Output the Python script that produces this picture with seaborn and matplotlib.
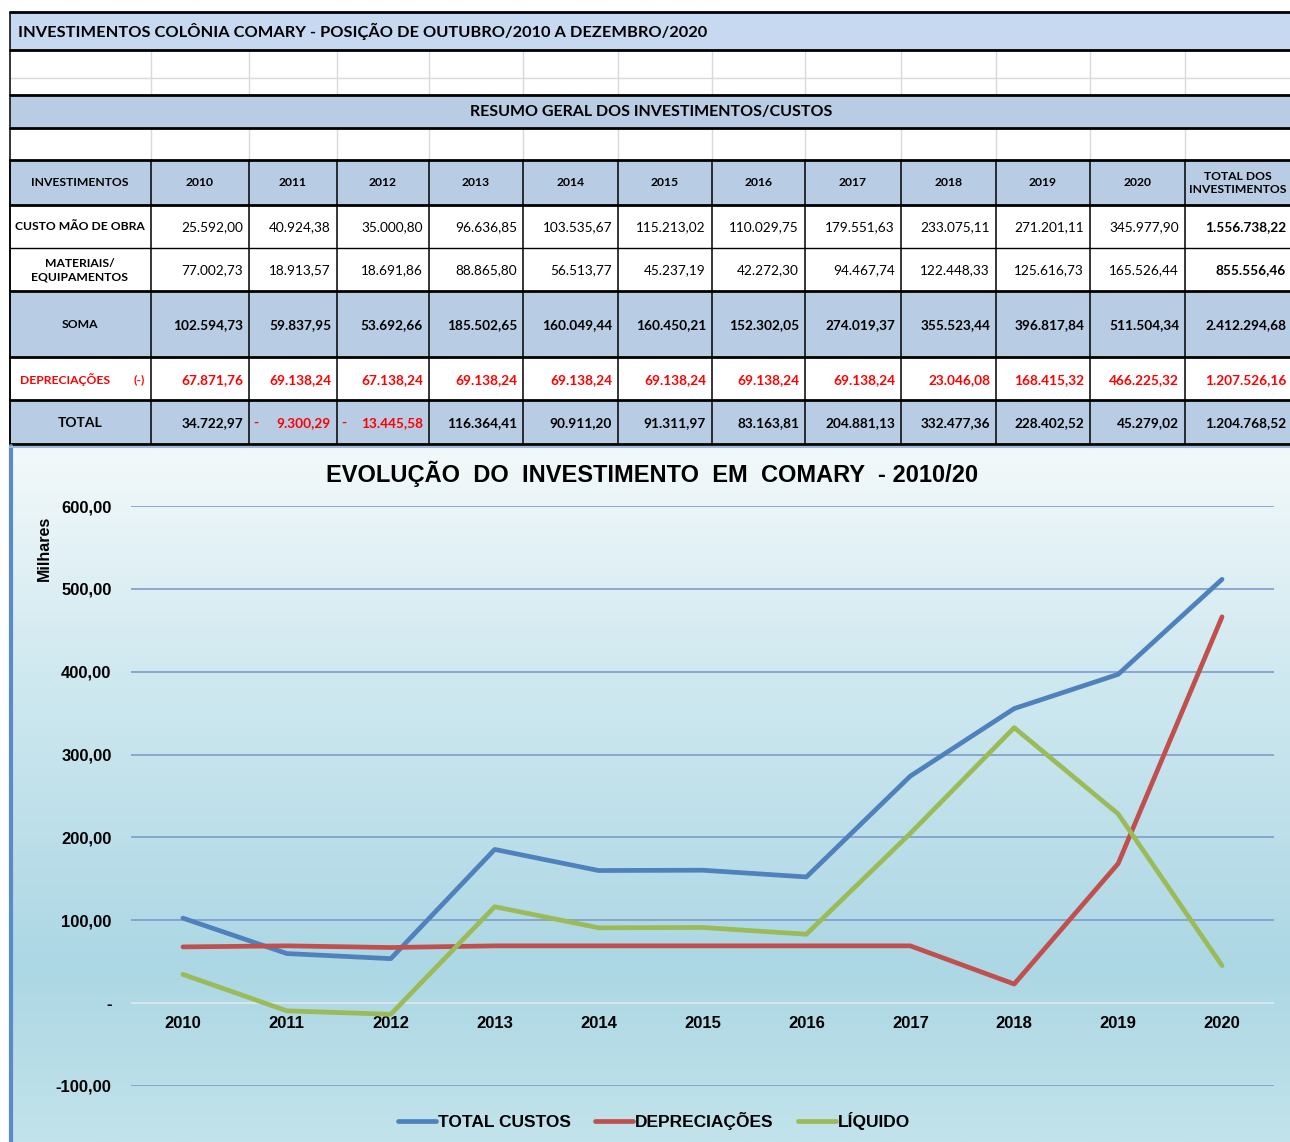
import numpy as np
import pandas as pd
import seaborn as sns
import matplotlib.pyplot as plt
from matplotlib.patches import Rectangle

years = [2010, 2011, 2012, 2013, 2014, 2015, 2016, 2017, 2018, 2019, 2020]
custo_mao_obra = [25592.00, 40924.38, 35000.80, 96636.85, 103535.67, 115213.02,
                  110029.75, 179551.63, 233075.11, 271201.11, 345977.90]
materiais = [77002.73, 18913.57, 18691.86, 88865.80, 56513.77, 45237.19,
             42272.30, 94467.74, 122448.33, 125616.73, 165526.44]
soma = [102594.73, 59837.95, 53692.66, 185502.65, 160049.44, 160450.21,
        152302.05, 274019.37, 355523.44, 396817.84, 511504.34]
depreciacoes = [67871.76, 69138.24, 67138.24, 69138.24, 69138.24, 69138.24,
                69138.24, 69138.24, 23046.08, 168415.32, 466225.32]
liquido = [34722.97, -9300.29, -13445.58, 116364.41, 90911.20, 91311.97,
           83163.81, 204881.13, 332477.36, 228402.52, 45279.02]
totais = [1556738.22, 855556.46, 2412294.68, 1207526.16, 1204768.52]

series_names = ["TOTAL CUSTOS", "DEPRECIAÇÕES", "LÍQUIDO"]
series_colors = ["#4F81BD", "#C0504D", "#9BBB59"]


def br(v):
    s = f"{abs(v):,.2f}"
    return s.replace(",", "X").replace(".", ",").replace("X", ".")


sns.set_theme(style="white")
plt.rcParams['font.family'] = ['Lato', 'DejaVu Sans']
plt.rcParams['text.color'] = 'black'

W, H = 1290, 1142
fig = plt.figure(figsize=(W / 100, H / 100), dpi=100)

# ---- base axes in pixel coords (table + chart background)
base = fig.add_axes([0, 0, 1, 1])
base.set_xlim(0, W)
base.set_ylim(H, 0)
base.axis("off")

BLUE_HDR = "#B8CCE4"
BLUE_TTL = "#C6D9F1"
cols = [10, 151, 249, 337, 429, 523, 618, 712, 805, 901, 996, 1090, 1185, 1290]


def fill(y0, y1, color):
    base.add_patch(Rectangle((10, y0), W - 10, y1 - y0, facecolor=color, edgecolor="none", zorder=1))


fill(12, 50, BLUE_TTL)
fill(95, 128, BLUE_HDR)
fill(160, 205, BLUE_HDR)
fill(291, 357, BLUE_HDR)
fill(400, 444, BLUE_HDR)

# light grid in empty rows
for y0, y1 in [(50, 94), (128, 160)]:
    for x in cols[1:-1]:
        base.plot([x, x], [y0, y1], color="#D9D9D9", lw=1, zorder=2)
base.plot([10, W], [78, 78], color="#D9D9D9", lw=1, zorder=2)

# vertical black lines in data rows
for x in cols[:-1]:
    base.plot([x, x], [160, 444], color="black", lw=1.1, zorder=3)
base.plot([10, 10], [12, 444], color="black", lw=1.1, zorder=3)
for y in [12, 50, 95, 128, 160, 205, 291, 357, 400, 444]:
    base.plot([10, W], [y, y], color="black", lw=2, zorder=3)
base.plot([10, W], [248, 248], color="black", lw=1, zorder=3)

base.text(18, 31, "INVESTIMENTOS COLÔNIA COMARY - POSIÇÃO DE OUTUBRO/2010 A DEZEMBRO/2020",
          fontsize=11.8, fontweight="bold", ha="left", va="center", zorder=4)
base.text(651, 112, "RESUMO GERAL DOS INVESTIMENTOS/CUSTOS",
          fontsize=11.5, fontweight="bold", ha="center", va="center", zorder=4)

hdr = dict(fontsize=8.7, fontweight="bold", ha="center", va="center", zorder=4)
base.text(80, 183, "INVESTIMENTOS", **hdr)
for i, yr in enumerate(years):
    base.text((cols[i + 1] + cols[i + 2]) / 2, 183, str(yr), **hdr)
base.text(1238, 183, "TOTAL DOS\nINVESTIMENTOS", linespacing=1.3, **hdr)

base.text(80, 227, "CUSTO MÃO DE OBRA", **hdr)
base.text(80, 270, "MATERIAIS/\nEQUIPAMENTOS", linespacing=1.3, **hdr)
base.text(80, 325, "SOMA", **hdr)
base.text(20, 380, "DEPRECIAÇÕES", color="red", fontsize=8.7, fontweight="bold", ha="left", va="center", zorder=4)
base.text(139, 380, "(-)", color="red", fontsize=8.7, fontweight="bold", ha="center", va="center", zorder=4)
base.text(80, 423, "TOTAL", fontsize=10, fontweight="bold", ha="center", va="center", zorder=4)

rows = [(custo_mao_obra, 227, "normal", "black"),
        (materiais, 270, "normal", "black"),
        (soma, 325, "bold", "black"),
        (depreciacoes, 380, "bold", "red"),
        (liquido, 423, "bold", "black")]
for r, (vals, y, wt, col) in enumerate(rows):
    for i, v in enumerate(vals):
        xr = cols[i + 2] - 6
        c = col
        if v < 0:
            c = "red"
            base.text(cols[i + 1] + 4, y, "-", color="red", fontsize=10, fontweight="bold",
                      ha="left", va="center", zorder=4)
        base.text(xr, y, br(v), color=c, fontsize=9.8, fontweight=wt, ha="right", va="center", zorder=4)
    tcol = "red" if col == "red" else "black"
    base.text(W - 4, y, br(totais[r]), color=tcol, fontsize=9.8, fontweight="bold",
              ha="right", va="center", zorder=4)

# chart background gradient
stops = [(0.0, (243, 249, 250)), (0.32, (208, 233, 240)), (0.75, (172, 215, 228)), (1.0, (194, 227, 235))]
t = np.linspace(0, 1, 300)
grad = np.zeros((300, 1, 3))
for k in range(3):
    grad[:, 0, k] = np.interp(t, [s[0] for s in stops], [s[1][k] / 255 for s in stops])
base.imshow(grad, extent=[10, W, H, 447], aspect="auto", zorder=0.5)
base.plot([11, 11], [446, H], color="#5B8BC6", lw=3, zorder=3)
base.plot([10, W], [447, 447], color="#9DB9DC", lw=1.5, zorder=3)

# ---- chart
df = pd.DataFrame({
    "ano": years * 3,
    "valor": [v / 1000 for v in soma] + [v / 1000 for v in depreciacoes] + [v / 1000 for v in liquido],
    "serie": [series_names[0]] * 11 + [series_names[1]] * 11 + [series_names[2]] * 11,
})

ax = fig.add_axes([131 / W, (H - 1086) / H, 1143 / W, 580 / H])
ax.set_facecolor("none")
sns.lineplot(data=df, x="ano", y="valor", hue="serie", hue_order=series_names,
             palette=series_colors, linewidth=3.4, ax=ax, zorder=3)
ax.set_xlim(2009.5, 2020.5)
ax.set_ylim(-100, 600)
yt = list(range(-100, 700, 100))
ax.set_yticks(yt)
ax.set_yticklabels(["-" if v == 0 else f"{v:,.2f}".replace(".", ",") for v in yt])
ax.set_xticks(years)
ax.set_xticklabels([str(y) for y in years])
for v in yt:
    if v != 0:
        ax.axhline(v, color="#7C9DCB", lw=1.2, zorder=1)
ax.axhline(0, color="#DCEBF0", lw=1.2, zorder=1)
for s in ax.spines.values():
    s.set_visible(False)
ax.spines["bottom"].set_position(("data", 0))
ax.tick_params(axis="both", length=0, labelcolor="black")
ax.tick_params(axis="y", pad=14)
ax.tick_params(axis="x", pad=9)
for lab in ax.get_xticklabels() + ax.get_yticklabels():
    lab.set_fontfamily("Liberation Sans")
    lab.set_fontweight("bold")
    lab.set_fontsize(12)
ax.set_xlabel("")
ax.set_ylabel("")

fig.text(44 / W, 1 - 548 / H, "Milhares", rotation=90, ha="center", va="center",
         fontsize=11.5, fontweight="bold", family="Liberation Sans", color="black")
fig.text(652 / W, 1 - 474 / H, "EVOLUÇÃO  DO  INVESTIMENTO  EM  COMARY  - 2010/20",
         ha="center", va="center", fontsize=17, fontweight="bold", family="Liberation Sans",
         color="black")

sns.move_legend(ax, "center", bbox_to_anchor=(654 / W, 1 - 1121 / H), bbox_transform=fig.transFigure,
                ncol=3, frameon=False, title=None, handlelength=2.2, handletextpad=0.1,
                columnspacing=1.4, labelcolor="black",
                prop={"family": "Liberation Sans", "weight": "bold", "size": 12.5})

fig.savefig("out.png", dpi=100)
